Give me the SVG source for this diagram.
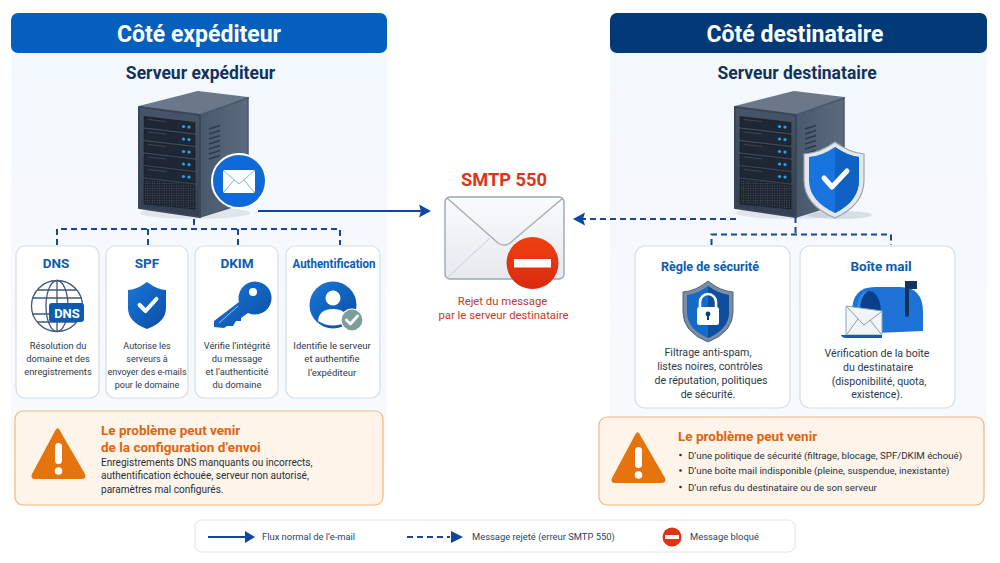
<svg xmlns="http://www.w3.org/2000/svg" xmlns:xlink="http://www.w3.org/1999/xlink" width="1000" height="563" viewBox="0 0 1000 563">
<style>
text{font-family:Roboto,"Noto Sans","Liberation Sans",sans-serif}
.hd{font-size:23px;font-weight:700;fill:#fff;text-anchor:middle}
.srv{font-size:17.500px;font-weight:700;fill:#12335c;text-anchor:middle}
.ct{font-size:13.500px;font-weight:700;fill:#0b5cb0;text-anchor:middle}
.b{font-size:9.300px;fill:#2b3a4a;text-anchor:middle}
.b2{font-size:10.600px;fill:#2b3a4a;text-anchor:middle}
.wt{font-size:13.500px;font-weight:700;fill:#e0640e}
.wb{font-size:10.050px;fill:#25303c}
.wr{font-size:9.700px;fill:#25303c}
.lg{font-size:9.400px;fill:#2b3f5c}
.rej{font-size:11.300px;fill:#c8391d;text-anchor:middle}
.card{fill:#fff;stroke:#d5dde6;stroke-width:1.2}
.warn{fill:#fef4e9;stroke:#f3b777;stroke-width:1.2}
.dash{fill:none;stroke:#1c4596;stroke-width:2;stroke-dasharray:6 4}
.solid{fill:none;stroke:#0d47a1;stroke-width:2}
</style>
<defs>
<linearGradient id="pan" x1="0" y1="0" x2="0" y2="1"><stop offset="0" stop-color="#f3f8fd"/><stop offset=".85" stop-color="#f7fafd"/><stop offset="1" stop-color="#fff"/></linearGradient>
<linearGradient id="blue" x1="0" y1="0" x2="1" y2="1"><stop offset="0" stop-color="#1a76d8"/><stop offset="1" stop-color="#0a4ea5"/></linearGradient>
<linearGradient id="front" x1="0" y1="0" x2="0" y2="1"><stop offset="0" stop-color="#475569"/><stop offset="1" stop-color="#333f50"/></linearGradient>
<linearGradient id="side" x1="0" y1="0" x2="1" y2="0"><stop offset="0" stop-color="#4a586b"/><stop offset="1" stop-color="#5b6a7d"/></linearGradient>
<linearGradient id="env" x1="0" y1="0" x2="0" y2="1"><stop offset="0" stop-color="#fafbfc"/><stop offset="1" stop-color="#e6e9ee"/></linearGradient>
<linearGradient id="red" x1="0" y1="0" x2="0" y2="1"><stop offset="0" stop-color="#f0400f"/><stop offset="1" stop-color="#d92a10"/></linearGradient>
<pattern id="mesh" width="2.400" height="2.400" patternUnits="userSpaceOnUse"><rect width="2.400" height="2.400" fill="#1d2530"/><circle cx="1.200" cy="1.200" r=".6" fill="#4a5562"/></pattern>
<g id="drawer">
<path d="M0 0 L51 6 V16.500 L0 10.500Z" fill="#1e2733" stroke="#0f151d" stroke-width=".5"/>
<path d="M4 3 L22 5" stroke="#3c4757" stroke-width="1"/>
<circle cx="39.500" cy="10" r="1.600" fill="#2aa0ea"/><circle cx="45" cy="10.600" r="1.600" fill="#2aa0ea"/>
</g>
<g id="server">
<ellipse cx="195" cy="213" rx="55" ry="6" fill="#c9d2dc" opacity=".5"/>
<path d="M139 107 L198 92 L248 98 L200 115Z" fill="#6a788a" stroke="#6a788a" stroke-width="2" stroke-linejoin="round"/>
<path d="M200 115 L248 98 V202 L200 217Z" fill="url(#side)" stroke="#4a586b" stroke-width="1.500" stroke-linejoin="round"/>
<path d="M139 107 L200 115 V217 L139 208Z" fill="url(#front)" stroke="#3a4656" stroke-width="2" stroke-linejoin="round"/>
<use xlink:href="#drawer" x="144" y="116.500"/>
<use xlink:href="#drawer" x="144" y="129"/>
<use xlink:href="#drawer" x="144" y="141.500"/>
<use xlink:href="#drawer" x="144" y="154"/>
<use xlink:href="#drawer" x="144" y="166.500"/>
<path d="M144 179 L195 185 V209 L144 204Z" fill="url(#mesh)" stroke="#0f151d" stroke-width=".5"/>
<path d="M209 129 L220 125.500 M209 134 L220 130.500 M209 139 L220 135.500 M209 144 L220 140.500 M209 149 L220 145.500 M209 154 L220 150.500 M209 159 L220 155.500" stroke="#2e3a4a" stroke-width="1.600"/>
</g>
<g id="warnicon">
<path d="M59 6 L85 51 Q87 56 81 56 H35 Q30 56 32 51 L55 8 Q57 4 59 6Z" fill="#e5740f"/>
<rect x="55" y="20" width="7" height="21" rx="3.500" fill="#fff"/>
<circle cx="58.500" cy="48" r="3.800" fill="#fff"/>
</g>
<path id="chk" d="M-7 0 L-2 5 L7 -5" fill="none" stroke="#fff" stroke-width="3.400" stroke-linecap="round" stroke-linejoin="round"/>
<path id="ah" d="M0 0 L-12 -6.500 L-10 0 L-12 6.500Z" fill="#0d47a1"/>
</defs>
<rect width="1000" height="563" fill="#fff"/>
<rect x="11" y="40" width="376" height="472" fill="url(#pan)"/>
<rect x="610" y="40" width="377" height="472" fill="url(#pan)"/>

<g id="header-left"><rect x="11" y="13" width="376" height="40" rx="7" fill="#0560bd"/><text class="hd" x="199" y="42">Côté expéditeur</text></g>
<g id="header-right"><rect x="610" y="13" width="377" height="40" rx="7" fill="#023a78"/><text class="hd" x="795" y="42">Côté destinataire</text></g>

<g id="server-left">
<text class="srv" x="200.500" y="79">Serveur expéditeur</text>
<use xlink:href="#server"/>
<circle cx="239" cy="181" r="27" fill="#0f6ad8" stroke="#fff" stroke-width="2"/>
<rect x="223" y="170" width="32" height="23" rx="2" fill="#fff"/>
<path d="M224 171 L239 184 L254 171 M224 192 L234 180 M254 192 L244 180" fill="none" stroke="#7fb2ea" stroke-width="1"/>
</g>

<g id="server-right">
<text class="srv" x="797" y="79">Serveur destinataire</text>
<use xlink:href="#server" x="596"/>
<ellipse cx="840" cy="215" rx="32" ry="4" fill="#b8c3cf" opacity=".5"/>
<path d="M835 142 Q850 153 864 154 V180 Q864 205 835 218 Q804 205 804 180 V154 Q820 153 835 142Z" fill="#e4e8ed" stroke="#9aa5b2" stroke-width="1.200"/>
<path d="M835 147 Q848 156 859 157 V180 Q859 201 835 213 Q809 201 809 180 V157 Q822 156 835 147Z" fill="#1a74de"/>
<path d="M835 147 Q848 156 859 157 V180 Q859 201 835 213Z" fill="#0f62c4"/>
<path d="M824 178 L832 187 L847 171" fill="none" stroke="#fff" stroke-width="5" stroke-linecap="round" stroke-linejoin="round"/>
</g>

<g id="smtp">
<text x="504" y="186" font-size="18.300" font-weight="700" fill="#d9361a" text-anchor="middle">SMTP 550</text>
<rect x="445" y="197" width="119" height="82" rx="5" fill="url(#env)" stroke="#9da6b1" stroke-width="1.400"/>
<path d="M447 198 L498 243 Q504 247 510 243 L563 198" fill="none" stroke="#a4acb6" stroke-width="1.400"/>
<path d="M447 278 L490 238" fill="none" stroke="#c8ced5" stroke-width="1"/>
<circle cx="532.500" cy="263" r="26" fill="url(#red)"/>
<rect x="514" y="259" width="37" height="8.500" fill="#fff"/>
<text class="rej" x="502.500" y="305">Rejet du message</text>
<text class="rej" x="503.500" y="319">par le serveur destinataire</text>
</g>

<g id="connectors">
<path class="dash" d="M194 219 V229 M57 245 V229 H340 V245 M148 229 V245 M238 229 V245"/>
<path class="dash" d="M795.500 217 V234.500 M711.500 245 V234.500 H891 V245"/>
<path class="solid" d="M258 211 H421"/>
<use xlink:href="#ah" x="431" y="211"/>
<path class="dash" d="M736 219 H583"/>
<use xlink:href="#ah" transform="translate(573 219) rotate(180)"/>
</g>

<g id="card-dns">
<rect class="card" x="16" y="246" width="83" height="152" rx="9"/>
<text class="ct" x="56" y="268">DNS</text>
<g fill="none" stroke="#41597a" stroke-width="1.300"><circle cx="57" cy="306" r="25.500"/><ellipse cx="57" cy="306" rx="11" ry="25.500"/><path d="M57 280.500 V331.500 M32 298 H82 M32 314 H82 M37 290 H77 M37 322 H77"/></g>
<rect x="49" y="303" width="35" height="19" rx="3" fill="#0b5bb0"/>
<text x="67" y="318" font-size="13" font-weight="700" fill="#fff" text-anchor="middle">DNS</text>
<text class="b" x="58" y="349">Résolution du</text><text class="b" x="58" y="362">domaine et des</text><text class="b" x="58" y="375">enregistrements</text>
</g>

<g id="card-spf">
<rect class="card" x="106" y="246" width="82" height="152" rx="9"/>
<text class="ct" x="147" y="268">SPF</text>
<path d="M147 282 Q158 290 166 290 V308 Q166 322 147 329 Q128 322 128 308 V290 Q136 290 147 282Z" fill="url(#blue)"/>
<use xlink:href="#chk" transform="translate(148 305) scale(1.200)"/>
<text class="b" x="147" y="349" style="font-size:9px">Autorise les</text><text class="b" x="147" y="362" style="font-size:9px">serveurs à</text><text class="b" x="147" y="375" style="font-size:9px">envoyer des e-mails</text><text class="b" x="147" y="388" style="font-size:9px">pour le domaine</text>
</g>

<g id="card-dkim">
<rect class="card" x="195" y="246" width="83" height="152" rx="9"/>
<text class="ct" x="237" y="268">DKIM</text>
<path d="M214 327 V321 L239 302 A16.500 16.500 0 1 1 248 313 L241 318 V321 H236 L233 326 H227 L224 328 Z" fill="url(#blue)"/>
<circle cx="253" cy="292" r="4" fill="#fff"/>
<path d="M219 323 L238 306" stroke="#9cc4ee" stroke-width="1"/>
<text class="b" x="237" y="349">Vérifie l’intégrité</text><text class="b" x="237" y="362">du message</text><text class="b" x="237" y="375">et l’authenticité</text><text class="b" x="237" y="388">du domaine</text>
</g>

<g id="card-auth">
<rect class="card" x="286" y="246" width="94" height="152" rx="9"/>
<text class="ct" x="334" y="268" style="font-size:13px" textLength="83" lengthAdjust="spacingAndGlyphs">Authentification</text>
<circle cx="333" cy="305" r="23.500" fill="url(#blue)"/>
<circle cx="333" cy="298" r="7.500" fill="#fff"/>
<path d="M318 321 Q319 309 333 309 Q347 309 348 321 Q333 330 318 321Z" fill="#fff"/>
<circle cx="352" cy="320" r="11" fill="#7d9e96" stroke="#fff" stroke-width="1.200"/>
<use xlink:href="#chk" transform="translate(352 320) scale(.8)"/>
<text class="b" x="332" y="349" style="font-size:9.500px">Identifie le serveur</text><text class="b" x="332" y="362" style="font-size:9.500px">et authentifie</text><text class="b" x="332" y="376" style="font-size:9.500px">l’expéditeur</text>
</g>

<g id="card-regle">
<rect class="card" x="635" y="246" width="155" height="162" rx="10"/>
<text class="ct" x="710" y="271" textLength="98" lengthAdjust="spacingAndGlyphs">Règle de sécurité</text>
<path d="M708 281 Q720 291 733 292 V312 Q733 332 708 342 Q683 332 683 312 V292 Q696 291 708 281Z" fill="#7a8ca3" stroke="#56657a"/>
<path d="M708 286 Q719 294 729 295 V312 Q729 329 708 338 Q687 329 687 312 V295 Q697 294 708 286Z" fill="#1569c7"/>
<path d="M708 286 Q719 294 729 295 V312 Q729 329 708 338Z" fill="#0d4f9e"/>
<path d="M700 308 V302 A8 8 0 0 1 716 302 V308" fill="none" stroke="#fff" stroke-width="2.600"/>
<rect x="697" y="307" width="22" height="18" rx="2.500" fill="#fff"/>
<circle cx="708" cy="314" r="2.400" fill="#0d3f80"/><rect x="707" y="315" width="2" height="5" fill="#0d3f80"/>
<text class="b2" x="708" y="356">Filtrage anti-spam,</text><text class="b2" x="710" y="370">listes noires, contrôles</text><text class="b2" x="711" y="384">de réputation, politiques</text><text class="b2" x="708" y="398">de sécurité.</text>
</g>

<g id="card-boite">
<rect class="card" x="800" y="246" width="155" height="162" rx="10"/>
<text class="ct" x="881" y="271">Boîte mail</text>
<path d="M852 334 V312 Q852 287 875 287 H900 Q923 287 923 312 V331 Z" fill="#1e72d6"/>
<path d="M856 312 Q857 291 868 291 Q880 291 881 312 V332 H856Z" fill="#0b3f8c"/>
<path d="M856 312 Q857 291 868 291 Q860 296 860 312Z" fill="#2f86e6"/>
<rect x="905" y="281" width="4" height="36" rx="2" fill="#12345f"/>
<rect x="905" y="281" width="12" height="8" fill="#12345f"/>
<path d="M846 306 L882 311 V335 H846Z" fill="#f2f5f8" stroke="#8fa3b8"/>
<path d="M847 307 L864 325 L881 312 M847 334 L858 319 M881 334 L870 320" fill="none" stroke="#7a90a8" stroke-width=".9"/>
<path d="M841 335 H882 V338 H846 Q842 338 841 335Z" fill="#0f5cb8"/>
<text class="b2" x="877" y="357">Vérification de la boîte</text><text class="b2" x="878" y="371">du destinataire</text><text class="b2" x="879" y="385">(disponibilité, quota,</text><text class="b2" x="877" y="398">existence).</text>
</g>

<g id="warn-left">
<rect class="warn" x="15" y="411" width="368" height="94" rx="8"/>
<use xlink:href="#warnicon" transform="translate(0 423)"/>
<text class="wt" x="101" y="435">Le problème peut venir</text>
<text class="wt" x="101" y="452">de la configuration d’envoi</text>
<text class="wb" x="101" y="466">Enregistrements DNS manquants ou incorrects,</text>
<text class="wb" x="101" y="479">authentification échouée, serveur non autorisé,</text>
<text class="wb" x="101" y="493">paramètres mal configurés.</text>
</g>

<g id="warn-right">
<rect class="warn" x="599" y="417" width="385" height="88" rx="8"/>
<use xlink:href="#warnicon" transform="translate(580 427)"/>
<text class="wt" x="678" y="441">Le problème peut venir</text>
<g fill="#25303c"><circle cx="680.500" cy="455" r="1.300"/><circle cx="680.500" cy="470.500" r="1.300"/><circle cx="680.500" cy="487" r="1.300"/></g>
<text class="wr" x="688" y="458.500">D’une politique de sécurité (filtrage, blocage, SPF/DKIM échoué)</text>
<text class="wr" x="688" y="474">D’une boîte mail indisponible (pleine, suspendue, inexistante)</text>
<text class="wr" x="688" y="490.500">D’un refus du destinataire ou de son serveur</text>
</g>

<g id="legend">
<rect x="195" y="520" width="600" height="32" rx="7" fill="#fff" stroke="#dde3ea" stroke-width="1"/>
<path class="solid" d="M208 537 H246"/>
<path d="M245 531 L255 537 L245 543Z" fill="#0d47a1"/>
<text class="lg" x="262" y="540">Flux normal de l’e-mail</text>
<path class="dash" d="M407 537 H450"/>
<path d="M451 531 L463 537 L451 543Z" fill="#0d47a1"/>
<text class="lg" x="472" y="540">Message rejeté (erreur SMTP 550)</text>
<circle cx="672" cy="537" r="9.500" fill="#e2320f"/>
<rect x="665" y="535" width="14" height="4" fill="#fff"/>
<text class="lg" x="690" y="540">Message bloqué</text>
</g>
</svg>
